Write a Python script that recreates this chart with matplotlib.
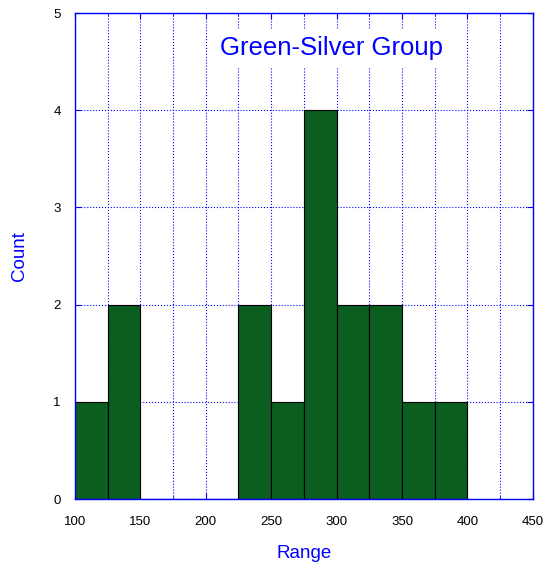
import numpy as np
import matplotlib
matplotlib.use("Agg")
import matplotlib.pyplot as plt
from matplotlib.ticker import MultipleLocator

plt.rcParams['font.family'] = ['Liberation Sans', 'DejaVu Sans']

# histogram bins and counts
bin_edges = [100, 125, 150, 175, 200, 225, 250, 275, 300, 325, 350, 375, 400]
counts = [1, 2, 0, 0, 0, 2, 1, 4, 2, 2, 1, 1]
title = "Green-Silver Group"

fig = plt.figure(figsize=(5.5, 5.66), dpi=100)
ax = fig.add_axes([0.136, 0.118, 0.833, 0.859])

lefts = np.array(bin_edges[:-1])
widths = np.diff(bin_edges)
ax.bar(lefts, counts, width=widths, align='edge', color='#0a5e1f',
       edgecolor='black', linewidth=0.8, zorder=3)

ax.set_xlim(100, 450)
ax.set_ylim(0, 5)
ax.xaxis.set_major_locator(MultipleLocator(50))
ax.xaxis.set_minor_locator(MultipleLocator(25))
ax.yaxis.set_major_locator(MultipleLocator(1))

ax.grid(True, which='both', axis='x', color='blue', linestyle=':', linewidth=0.8, zorder=1)
ax.grid(True, which='major', axis='y', color='blue', linestyle=':', linewidth=0.8, zorder=1)

for s in ax.spines.values():
    s.set_color('blue')
    s.set_linewidth(1.0)
    s.set_zorder(4)

ax.tick_params(which='both', direction='in', colors='blue', labelcolor='black',
               labelsize=9.5, top=True, right=True)
ax.tick_params(which='major', length=4)
ax.tick_params(which='minor', length=2)
ax.tick_params(axis='x', pad=12)
ax.tick_params(axis='y', pad=10)

ax.set_xlabel("Range", color='blue', fontsize=13.5, labelpad=12)
ax.set_ylabel("Count", color='blue', fontsize=13.5, labelpad=18)

ax.text(296, 4.64, title, color='blue', fontsize=18.5, ha='center', va='center',
        backgroundcolor='white', zorder=5)

fig.savefig("out.png", dpi=100)
